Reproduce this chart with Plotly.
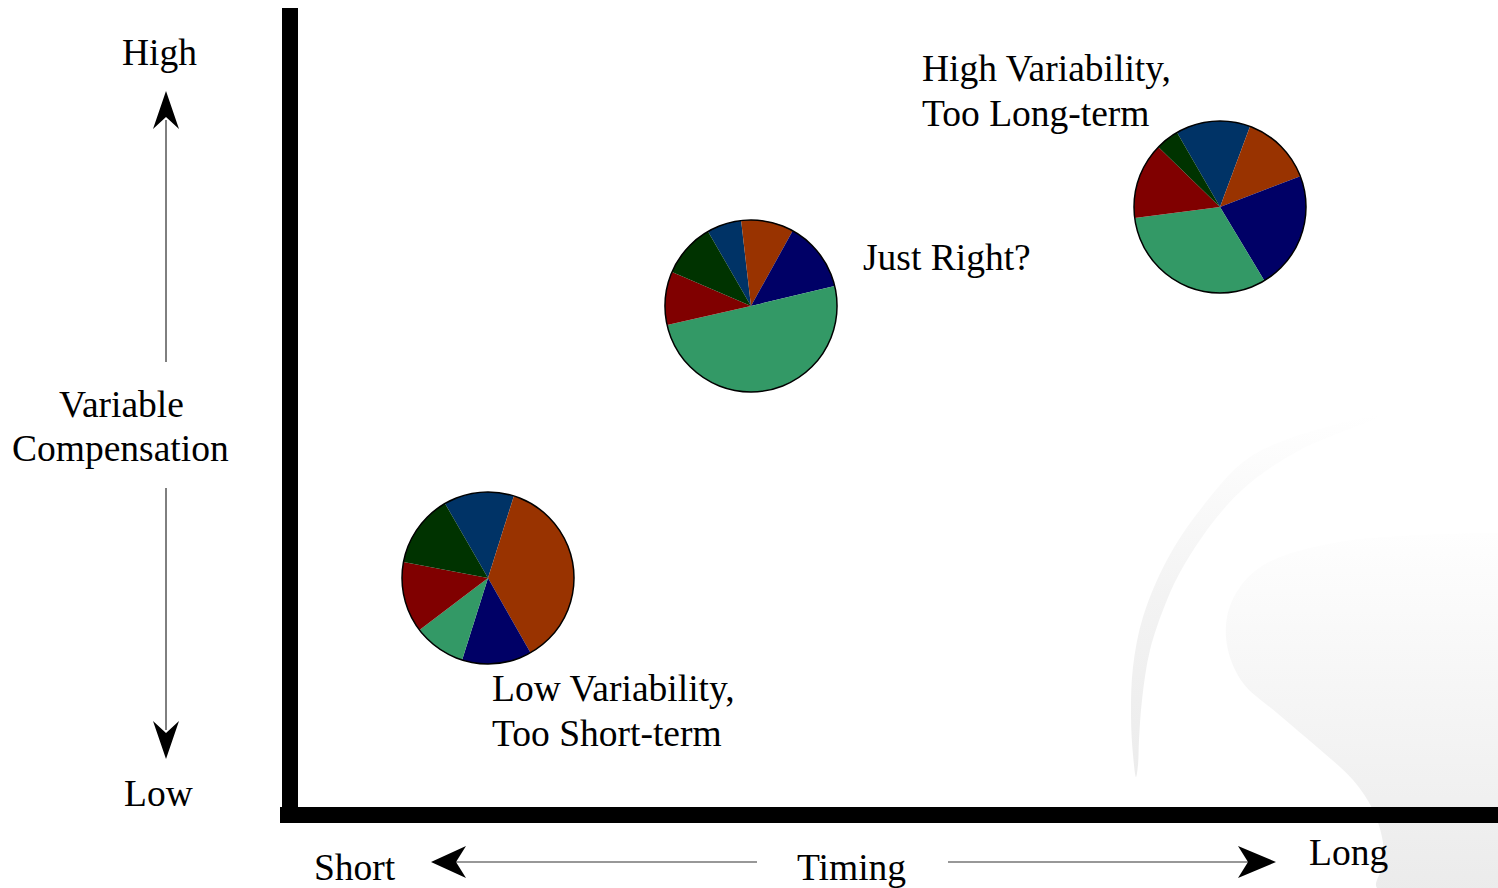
import plotly.graph_objects as go

# ---- data -------------------------------------------------------------
slice_labels = ["Component A", "Component B", "Component C",
                "Component D", "Component E", "Component F"]
slice_colors = ["#003366", "#993300", "#000066", "#339966", "#800000", "#003300"]

low_short_mix = [13.2, 36.9, 13.1, 9.8, 13.3, 13.7]     # Low Variability, Too Short-term
just_right_mix = [6.5, 9.9, 13.2, 50.2, 10.0, 10.2]     # Just Right?
high_long_mix = [14.0, 13.5, 22.2, 31.6, 14.3, 4.4]     # High Variability, Too Long-term

# ---- canvas -----------------------------------------------------------
W, H = 1498, 888
FONT = "Liberation Serif, Times New Roman, serif"
FONT_SIZE = 37.5
PIE_R = 86
pie_centers = {"low": (488, 578), "mid": (751, 306), "high": (1220, 207)}


def dom(center, r=PIE_R):
    cx, cy = center
    return dict(x=[(cx - r) / W, (cx + r) / W],
                y=[1 - (cy + r) / H, 1 - (cy - r) / H])


fig = go.Figure()

# soft background swooshes (bottom right)
crescent_x = [1383, 1333, 1250, 1200, 1167, 1143, 1133, 1131, 1133, 1136,
              1138, 1139, 1142, 1150, 1167, 1183, 1217, 1250, 1300, 1383]
crescent_y = [415, 425, 457, 510, 560, 617, 667, 717, 755, 777,
              765, 740, 700, 650, 600, 567, 517, 483, 450, 415]
fig.add_trace(go.Scatter(
    x=crescent_x, y=crescent_y, mode="lines", line=dict(width=0, shape="spline"),
    fill="toself",
    fillgradient=dict(type="vertical",
                      colorscale=[[0, "#ececec"], [0.5, "#f3f3f3"], [1, "#ffffff"]]),
    hoverinfo="skip", showlegend=False))

wave_x = [1498, 1420, 1333, 1267, 1240, 1227, 1228, 1243, 1277, 1317,
          1353, 1373, 1383, 1382, 1377, 1498]
wave_y = [533, 535, 543, 563, 587, 617, 650, 683, 713, 747,
          780, 810, 843, 867, 888, 888]
fig.add_trace(go.Scatter(
    x=wave_x, y=wave_y, mode="lines", line=dict(width=0, shape="spline"),
    fill="toself",
    fillgradient=dict(type="vertical",
                      colorscale=[[0, "#ebebeb"], [1, "#fefefe"]]),
    hoverinfo="skip", showlegend=False))

# ---- pies -------------------------------------------------------------
for key, vals in (("low", low_short_mix), ("mid", just_right_mix), ("high", high_long_mix)):
    d = dom(pie_centers[key])
    fig.add_trace(go.Pie(
        labels=slice_labels, values=vals, sort=False, direction="clockwise",
        rotation=330, marker=dict(colors=slice_colors, line=dict(width=0)),
        textinfo="none", hoverinfo="label+percent", domain=d, showlegend=False))
    # circular outline
    fig.add_trace(go.Pie(
        values=[1], sort=False, marker=dict(colors=["rgba(0,0,0,0)"],
                                            line=dict(color="black", width=1.5)),
        textinfo="none", hoverinfo="skip", domain=d, showlegend=False))

# ---- frame, arrows ----------------------------------------------------
shapes = [
    dict(type="rect", x0=282, x1=298, y0=8, y1=823, fillcolor="black", line_width=0),
    dict(type="rect", x0=280, x1=1498, y0=807, y1=823, fillcolor="black", line_width=0),
    # vertical axis arrows
    dict(type="line", x0=166, x1=166, y0=120, y1=362, line=dict(color="black", width=1)),
    dict(type="path", path="M 166 91 L 179 129 L 166 117 L 153 129 Z",
         fillcolor="black", line_width=0),
    dict(type="line", x0=166, x1=166, y0=488, y1=730, line=dict(color="black", width=1)),
    dict(type="path", path="M 166 759 L 179 721 L 166 733 L 153 721 Z",
         fillcolor="black", line_width=0),
    # horizontal axis arrows
    dict(type="line", x0=455, x1=757, y0=862, y1=862, line=dict(color="#333333", width=1.2)),
    dict(type="path", path="M 431 862 L 466 846 L 456 862 L 466 878 Z",
         fillcolor="black", line_width=0),
    dict(type="line", x0=948, x1=1250, y0=862, y1=862, line=dict(color="#333333", width=1.2)),
    dict(type="path", path="M 1276 862 L 1238 846 L 1248 862 L 1238 878 Z",
         fillcolor="black", line_width=0),
]
for s in shapes:
    s.update(xref="x", yref="y", layer="above")

# ---- text -------------------------------------------------------------
texts = [
    ("High", 159, 52, "center"),
    ("Variable", 121, 404, "center"),
    ("Compensation", 120, 448, "center"),
    ("Low", 158, 793, "center"),
    ("Short", 355, 867, "center"),
    ("Timing", 851, 867, "center"),
    ("Long", 1348, 852, "center"),
    ("High Variability,", 920, 68, "left"),
    ("Too Long-term", 920, 113, "left"),
    ("Just Right?", 861, 257, "left"),
    ("Low Variability,", 490, 688, "left"),
    ("Too Short-term", 490, 733, "left"),
]
annotations = [
    dict(text=t, x=x, y=y, xref="x", yref="y", xanchor=a, yanchor="middle",
         showarrow=False, font=dict(family=FONT, size=FONT_SIZE, color="black"))
    for t, x, y, a in texts
]

fig.update_layout(
    width=W, height=H, margin=dict(l=0, r=0, t=0, b=0),
    paper_bgcolor="white", plot_bgcolor="white", showlegend=False,
    xaxis=dict(range=[0, W], visible=False, fixedrange=True, domain=[0, 1]),
    yaxis=dict(range=[H, 0], visible=False, fixedrange=True, domain=[0, 1]),
    shapes=shapes, annotations=annotations,
)

fig.write_html("out.html", config={"displayModeBar": False})
